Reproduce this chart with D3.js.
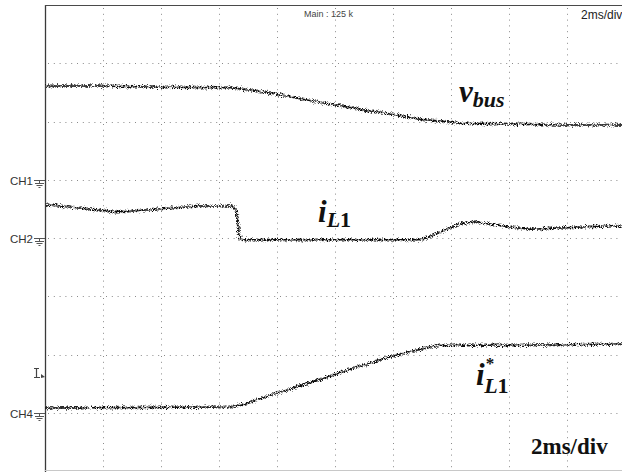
<!DOCTYPE html>
<html>
<head>
<meta charset="utf-8">
<script src="https://cdn.jsdelivr.net/npm/d3@7"></script>
<style>
  html, body { margin: 0; padding: 0; background: #fff; }
  svg { display: block; }
</style>
</head>
<body>
<svg id="scope" width="622" height="472"></svg>
<script>
// Time base: 2 ms/div, 10 divisions across the screen.
const timeTicks = [0, 2, 4, 6, 8, 10, 12, 14, 16, 18, 20];   // ms
const levelTicks = [0, 1, 2, 3, 4, 5, 6, 7, 8];              // vertical divisions

// Captured traces: time (ms) and screen level (divisions from bottom).
const vbusTime  = [0, 1.9, 3.97, 6.38, 7.07, 7.76, 8.79, 9.83, 10.86, 11.9, 12.93, 13.62, 14.31, 15.69, 17.76, 20];
const vbusLevel = [6.61, 6.61, 6.59, 6.58, 6.54, 6.49, 6.39, 6.30, 6.21, 6.13, 6.04, 6.01, 5.97, 5.96, 5.94, 5.94];

const iL1Time  = [0, 0.86, 1.9, 2.41, 2.93, 3.97, 5.34, 6.45, 6.59, 6.66, 6.72, 6.83, 12.93, 13.28, 13.79, 14.31, 14.83, 15.34, 16.03, 16.72, 17.76, 19.14, 20];
const iL1Level = [4.57, 4.53, 4.48, 4.45, 4.46, 4.50, 4.55, 4.55, 4.48, 4.22, 3.99, 3.97, 3.97, 4.02, 4.14, 4.24, 4.28, 4.24, 4.19, 4.15, 4.17, 4.20, 4.20];

const iRefTime  = [0, 6.38, 6.9, 7.76, 8.79, 9.83, 10.86, 11.9, 12.93, 13.62, 16.38, 20];
const iRefLevel = [1.08, 1.10, 1.15, 1.30, 1.46, 1.63, 1.80, 1.96, 2.09, 2.16, 2.16, 2.18];

// Channel ground markers (divisions from bottom).
const channelNames  = ["CH1", "CH2", "CH4"];
const channelLevels = [5, 4, 1];
const triggerLevel = 1.68;

const padL = 45, padT = 5, divW = 58, divH = 58.25;
const x = d3.scaleLinear().domain([0, 20]).range([padL, padL + 10 * divW]);
const y = d3.scaleLinear().domain([0, 8]).range([padT + 8 * divH, padT]);

const svg = d3.select("#scope");

// Noise filters give the traces their sampled, jittery look.
const defs = svg.append("defs");
function jitter(id, freq, seed, scale) {
  const f = defs.append("filter").attr("id", id)
    .attr("filterUnits", "userSpaceOnUse")
    .attr("x", 0).attr("y", 0).attr("width", 622).attr("height", 472);
  f.append("feTurbulence").attr("type", "fractalNoise")
    .attr("baseFrequency", freq).attr("numOctaves", 2).attr("seed", seed).attr("result", "n");
  f.append("feDisplacementMap").attr("in", "SourceGraphic").attr("in2", "n")
    .attr("scale", scale).attr("xChannelSelector", "R").attr("yChannelSelector", "G");
}
jitter("jitterA", "0.8 1.1", 7, 6.5);
jitter("jitterB", "1.2 0.9", 21, 8);
defs.append("clipPath").attr("id", "screen").append("rect")
  .attr("x", padL).attr("y", padT).attr("width", 10 * divW).attr("height", 8 * divH);

// Dotted graticule
const grid = svg.append("g").attr("stroke", "#8a8a8a").attr("stroke-width", 1)
  .attr("stroke-dasharray", "1,4.8");
grid.selectAll("line.v").data(timeTicks.slice(1, -1)).join("line")
  .attr("x1", d => x(d) + 0.5).attr("x2", d => x(d) + 0.5)
  .attr("y1", padT + 3).attr("y2", y(0));
grid.selectAll("line.h").data(levelTicks.slice(1, -1)).join("line")
  .attr("x1", padL + 3).attr("x2", x(20))
  .attr("y1", d => Math.round(y(d)) + 0.5).attr("y2", d => Math.round(y(d)) + 0.5);

// Screen frame
svg.append("line").attr("x1", padL + 0.5).attr("x2", padL + 0.5).attr("y1", padT).attr("y2", 472)
  .attr("stroke", "#3a3a3a").attr("stroke-width", 1.3);
svg.append("line").attr("x1", padL).attr("x2", 622).attr("y1", padT + 0.5).attr("y2", padT + 0.5)
  .attr("stroke", "#4a4a4a").attr("stroke-width", 1.2);
svg.append("line").attr("x1", padL).attr("x2", 622).attr("y1", 470.5).attr("y2", 470.5)
  .attr("stroke", "#c8c8c8").attr("stroke-width", 1);

// Traces
const line = d3.line().x(d => x(d[0])).y(d => y(d[1]));
const traces = [
  d3.zip(vbusTime, vbusLevel),
  d3.zip(iL1Time, iL1Level),
  d3.zip(iRefTime, iRefLevel)
];
const tg = svg.append("g").attr("clip-path", "url(#screen)");
tg.selectAll("path.soft").data(traces).join("path")
  .attr("d", line).attr("fill", "none").attr("stroke", "#555")
  .attr("stroke-width", 1.2).attr("opacity", 0.8).attr("filter", "url(#jitterB)");
tg.selectAll("path.core").data(traces).join("path")
  .attr("d", line).attr("fill", "none").attr("stroke", "#111")
  .attr("stroke-width", 1.5).attr("filter", "url(#jitterA)");

// Channel ground markers
const gm = svg.append("g");
channelNames.forEach((name, i) => {
  const yy = Math.round(y(channelLevels[i])) + 0.5;
  gm.append("text").attr("x", 10).attr("y", yy + 4.5).text(name)
    .attr("font-family", "Liberation Sans, Arial, sans-serif").attr("font-size", 11.5).attr("fill", "#333");
  gm.append("path")
    .attr("d", `M34,${yy}H45M39.5,${yy}V${yy + 3}M35,${yy + 3}H44M36.5,${yy + 5}H42.5M38.5,${yy + 7}H40.5`)
    .attr("stroke", "#555").attr("stroke-width", 1).attr("fill", "none");
});

// Trigger level marker
const ty = Math.round(y(triggerLevel));
gm.append("path").attr("d", `M34,${ty - 4.5}H39M36.5,${ty - 4.5}V${ty + 4.5}M34,${ty + 4.5}H40`)
  .attr("stroke", "#444").attr("stroke-width", 1.2).attr("fill", "none");
gm.append("path").attr("d", `M41,${ty + 1}L45,${ty + 4}L41,${ty + 5}Z`).attr("fill", "#444");

// Header texts
svg.append("text").attr("x", 304).attr("y", 17).text("Main : 125 k")
  .attr("font-family", "Liberation Sans, Arial, sans-serif").attr("font-size", 9).attr("fill", "#444");
svg.append("text").attr("x", 581).attr("y", 19).text("2ms/div")
  .attr("font-family", "Liberation Sans, Arial, sans-serif").attr("font-size", 12).attr("fill", "#222");

// Trace labels
const serif = "Liberation Serif, DejaVu Serif, serif";
function mathLabel(px, py, main, sub, sup) {
  const t = svg.append("text").attr("x", px).attr("y", py)
    .attr("font-family", serif).attr("font-weight", "bold").attr("fill", "#111");
  t.append("tspan").attr("font-style", "italic").attr("font-size", 31).text(main);
  if (sup) {
    t.append("tspan").attr("font-size", 17).attr("dx", 1).attr("dy", -16).text(sup);
    t.append("tspan").attr("font-style", "italic").attr("font-size", 22).attr("dx", -10).attr("dy", 24).text(sub[0]);
    t.append("tspan").attr("font-size", 22).text(sub.slice(1));
  } else {
    const isDigit = /\d$/.test(sub);
    t.append("tspan").attr("font-style", "italic").attr("font-size", 22).attr("dy", 5)
      .text(isDigit ? sub.slice(0, -1) : sub);
    if (isDigit) t.append("tspan").attr("font-size", 22).text(sub.slice(-1));
  }
}
mathLabel(459, 102, "v", "bus");
mathLabel(318, 222, "i", "L1");
mathLabel(476, 385, "i", "L1", "*");

svg.append("text").attr("x", 531).attr("y", 454).text("2ms/div")
  .attr("font-family", serif).attr("font-weight", "bold").attr("font-size", 23).attr("fill", "#111");
</script>
</body>
</html>
